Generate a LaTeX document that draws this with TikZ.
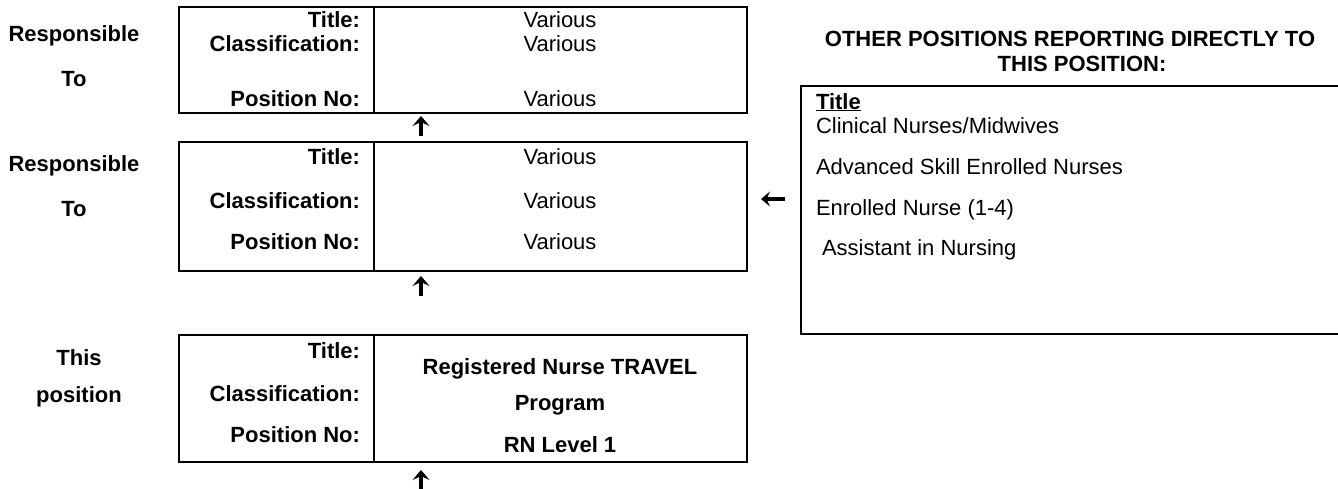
\documentclass[tikz,border=0pt]{standalone}
\usepackage{fontspec}
\setmainfont{Liberation Sans}
\usetikzlibrary{arrows.meta}
\begin{document}
\begin{tikzpicture}[x=1pt,y=-1pt,
  every node/.style={inner sep=0pt,outer sep=0pt,font=\fontsize{22}{26}\selectfont},
  cellbox/.style={draw,line width=2pt,anchor=north west},
  lab/.style={anchor=base east,font=\fontsize{22}{26}\selectfont\bfseries},
  val/.style={anchor=base},
  bval/.style={anchor=base,font=\fontsize{22}{26}\selectfont\bfseries},
  side/.style={anchor=base,font=\fontsize{22}{26}\selectfont\bfseries},
  item/.style={anchor=base west},
  uparrow/.style={line width=3.4pt,-{Stealth[length=10pt,width=17pt,inset=4pt]}},
  leftarrow/.style={line width=3.2pt,-{Stealth[length=9pt,width=15pt,inset=3.5pt]}}
]
\clip (0,0) rectangle (1338,488);
\useasboundingbox (0,0) rectangle (1338,488);

% ---- box 1
\node[cellbox,minimum width=195pt,minimum height=106pt] (b1l) at (179,7) {};
\node[cellbox,minimum width=373pt,minimum height=106pt] (b1r) at (374,7) {};
\node[side] (s1a) at (74,41) {Responsible};
\node[side] (s1b) at (74,86) {To};
\node[lab] (t1a) at (360,27) {Title:};
\node[lab] (t1b) at (360,51) {Classification:};
\node[lab] (t1c) at (360,106) {Position No:};
\node[val] (v1a) at (560,27) {Various};
\node[val] (v1b) at (560,51) {Various};
\node[val] (v1c) at (560,106) {Various};

% ---- box 2
\node[cellbox,minimum width=195pt,minimum height=129pt] (b2l) at (179,142) {};
\node[cellbox,minimum width=373pt,minimum height=129pt] (b2r) at (374,142) {};
\node[side] (s2a) at (74,171) {Responsible};
\node[side] (s2b) at (74,216) {To};
\node[lab] (t2a) at (360,164) {Title:};
\node[lab] (t2b) at (360,208) {Classification:};
\node[lab] (t2c) at (360,249) {Position No:};
\node[val] (v2a) at (560,164) {Various};
\node[val] (v2b) at (560,208) {Various};
\node[val] (v2c) at (560,249) {Various};

% ---- box 3
\node[cellbox,minimum width=195pt,minimum height=127pt] (b3l) at (179,335) {};
\node[cellbox,minimum width=373pt,minimum height=127pt] (b3r) at (374,335) {};
\node[side] (s3a) at (79,365) {This};
\node[side] (s3b) at (79,402) {position};
\node[lab] (t3a) at (360,358) {Title:};
\node[lab] (t3b) at (360,401) {Classification:};
\node[lab] (t3c) at (360,442) {Position No:};
\node[bval] (v3a) at (560,374) {Registered Nurse TRAVEL};
\node[bval] (v3b) at (560,410) {Program};
\node[bval] (v3c) at (560,452) {RN Level 1};

% ---- other positions
\node[side] (h1) at (1070,46) {OTHER POSITIONS REPORTING DIRECTLY TO};
\node[side] (h2) at (1082,71) {THIS POSITION:};
\node[cellbox,minimum width=560pt,minimum height=248pt] (ob) at (801,86) {};
\node[item,font=\fontsize{22}{26}\selectfont\bfseries] (o0) at (816,109) {\underline{Title}};
\node[item] (o1) at (816,133) {Clinical Nurses/Midwives};
\node[item] (o2) at (816,174) {Advanced Skill Enrolled Nurses};
\node[item] (o3) at (816,215) {Enrolled Nurse (1-4)};
\node[item] (o4) at (822,255) {Assistant in Nursing};

% ---- arrows
\coordinate (a1s) at (421,136);
\coordinate (a1e) at (421,116);
\coordinate (a2s) at (421,296);
\coordinate (a2e) at (421,276);
\coordinate (a3s) at (421,491);
\coordinate (a3e) at (421,470);
\coordinate (a4s) at (785,199);
\coordinate (a4e) at (761,199);
\draw[uparrow] (a1s) -- (a1e);
\draw[uparrow] (a2s) -- (a2e);
\draw[uparrow] (a3s) -- (a3e);
\draw[leftarrow] (a4s) -- (a4e);
\end{tikzpicture}
\end{document}
